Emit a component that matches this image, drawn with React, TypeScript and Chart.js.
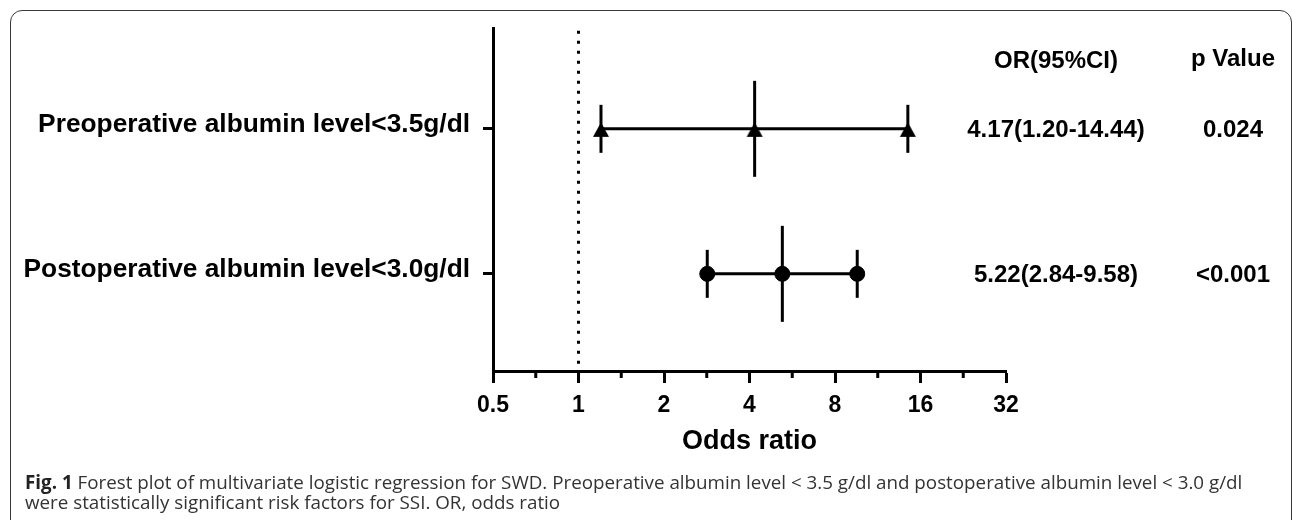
import React, { useEffect, useRef } from "react";
import { Chart, registerables } from "chart.js";

Chart.register(...registerables);

// ---- data ----
const ROW_LABELS = [
  "Preoperative albumin level<3.5g/dl",
  "Postoperative albumin level<3.0g/dl",
];
const ROW_POS = [1, 2];
const OR_VALUES = [4.17, 5.22];
const CI_LOWER = [1.2, 2.84];
const CI_UPPER = [14.44, 9.58];
const OR_TEXT = ["4.17(1.20-14.44)", "5.22(2.84-9.58)"];
const P_TEXT = ["0.024", "<0.001"];
const MARKERS = ["triangle", "circle"];
const X_TICKS = [0.5, 1, 2, 4, 8, 16, 32];
const X_TICK_LABELS = ["0.5", "1", "2", "4", "8", "16", "32"];
const REFERENCE_OR = 1;
const HEADERS = ["OR(95%CI)", "p Value"];
const X_TITLE = "Odds ratio";
const CAPTION_BOLD = "Fig. 1";
const CAPTION_LINE1 =
  " Forest plot of multivariate logistic regression for SWD. Preoperative albumin level < 3.5 g/dl and postoperative albumin level < 3.0 g/dl";
const CAPTION_LINE2 = "were statistically significant risk factors for SSI. OR, odds ratio";

const FONT = '"Liberation Sans", Arial, Helvetica, sans-serif';

// custom triangle marker: base sits a little below the line, like the reference
function makeTriangle(): HTMLCanvasElement {
  const c = document.createElement("canvas");
  c.width = 18;
  c.height = 28;
  const g = c.getContext("2d")!;
  g.fillStyle = "#000";
  g.beginPath();
  g.moveTo(9, 7.5);
  g.lineTo(17, 22);
  g.lineTo(1, 22);
  g.closePath();
  g.fill();
  return c;
}

const forestPlugin = {
  id: "forest",
  beforeDatasetsDraw(chart: any) {
    const { ctx, chartArea, scales } = chart;
    const x = scales.x;
    ctx.save();
    ctx.strokeStyle = "#000";
    ctx.lineWidth = 3;
    // reference line at OR = 1
    const rx = x.getPixelForValue(REFERENCE_OR);
    ctx.setLineDash([3, 7]);
    ctx.beginPath();
    ctx.moveTo(rx, chartArea.top + 2);
    ctx.lineTo(rx, chartArea.bottom);
    ctx.stroke();
    ctx.setLineDash([]);
    // vertical whiskers
    chart.data.datasets.forEach((_ds: any, i: number) => {
      const meta = chart.getDatasetMeta(i);
      meta.data.forEach((pt: any, j: number) => {
        const half = j === 1 ? 48 : 24;
        ctx.beginPath();
        ctx.moveTo(pt.x, pt.y - half);
        ctx.lineTo(pt.x, pt.y + half);
        ctx.stroke();
      });
    });
    ctx.restore();
  },
  afterDraw(chart: any) {
    const { ctx, chartArea, scales } = chart;
    const x = scales.x;
    const y = scales.y;
    ctx.save();
    // minor ticks
    ctx.strokeStyle = "#000";
    ctx.lineWidth = 3;
    for (let k = 0; k < X_TICKS.length - 1; k++) {
      const v = Math.sqrt(X_TICKS[k] * X_TICKS[k + 1]);
      const px = x.getPixelForValue(v);
      ctx.beginPath();
      ctx.moveTo(px, chartArea.bottom);
      ctx.lineTo(px, chartArea.bottom + 7);
      ctx.stroke();
    }
    // table text
    ctx.fillStyle = "#000";
    ctx.font = `bold 24px ${FONT}`;
    ctx.textAlign = "center";
    ctx.textBaseline = "middle";
    const orX = 1056;
    const pX = 1233;
    ctx.fillText(HEADERS[0], orX, 61);
    ctx.fillText(HEADERS[1], pX, 59);
    ROW_POS.forEach((r, i) => {
      const py = y.getPixelForValue(r) + 2;
      ctx.fillText(OR_TEXT[i], orX, py);
      ctx.fillText(P_TEXT[i], pX, py);
    });
    ctx.restore();
  },
};

export default function App() {
  const ref = useRef<HTMLCanvasElement | null>(null);

  useEffect(() => {
    if (!ref.current) return;
    const tri = makeTriangle();
    const datasets = ROW_POS.map((r, i) => ({
      label: ROW_LABELS[i],
      data: [
        { x: CI_LOWER[i], y: r },
        { x: OR_VALUES[i], y: r },
        { x: CI_UPPER[i], y: r },
      ],
      showLine: true,
      borderColor: "#000",
      backgroundColor: "#000",
      borderWidth: 3,
      pointStyle: MARKERS[i] === "triangle" ? tri : MARKERS[i],
      pointRadius: 7.5,
      pointBorderWidth: 1,
      pointBackgroundColor: "#000",
      pointBorderColor: "#000",
      tension: 0,
      fill: false,
    }));

    const chart = new Chart(ref.current, {
      type: "scatter",
      data: { datasets },
      plugins: [forestPlugin],
      options: {
        animation: false,
        responsive: false,
        devicePixelRatio: 1,
        events: [],
        layout: { padding: { top: 27, left: 0, right: 286, bottom: 0 } },
        plugins: { legend: { display: false }, tooltip: { enabled: false } },
        scales: {
          x: {
            type: "logarithmic",
            min: X_TICKS[0],
            max: X_TICKS[X_TICKS.length - 1],
            afterBuildTicks: (scale: any) => {
              scale.ticks = X_TICKS.map((v) => ({ value: v, major: true }));
            },
            afterFit: (scale: any) => {
              scale.height = 99;
            },
            ticks: {
              autoSkip: false,
              maxRotation: 0,
              padding: 9,
              color: "#000",
              font: { family: FONT, size: 23, weight: "bold" },
              callback: (_v: any, idx: number) => X_TICK_LABELS[idx],
            },
            grid: {
              display: true,
              drawOnChartArea: false,
              drawTicks: true,
              tickLength: 12,
              tickWidth: 3,
              tickColor: "#000",
            },
            border: { display: true, color: "#000", width: 3 },
            title: {
              display: true,
              text: X_TITLE,
              color: "#000",
              font: { family: FONT, size: 27, weight: "bold" },
              padding: { top: 0, bottom: 12 },
            },
          },
          y: {
            type: "linear",
            reverse: true,
            min: 0.31,
            max: 2.67,
            afterBuildTicks: (scale: any) => {
              scale.ticks = ROW_POS.map((v) => ({ value: v }));
            },
            afterFit: (scale: any) => {
              scale.width = 493;
            },
            ticks: {
              autoSkip: false,
              padding: 13,
              labelOffset: -4,
              color: "#000",
              font: { family: FONT, size: 26.3, weight: "bold" },
              callback: (_v: any, idx: number) => ROW_LABELS[idx],
            },
            grid: {
              display: true,
              drawOnChartArea: false,
              drawTicks: true,
              tickLength: 10,
              tickWidth: 3,
              tickColor: "#000",
            },
            border: { display: true, color: "#000", width: 3 },
          },
        },
      },
    } as any);
    return () => chart.destroy();
  }, []);

  return (
    <div
      style={{
        position: "fixed",
        left: 0,
        top: 0,
        width: 1292,
        height: 520,
        overflow: "hidden",
        background: "#fff",
      }}
    >
      <div
        style={{
          position: "absolute",
          left: 10,
          top: 10,
          width: 1282,
          height: 560,
          boxSizing: "border-box",
          border: "1.5px solid #3a3a3a",
          borderRadius: 12,
        }}
      />
      <canvas
        ref={ref}
        width={1292}
        height={470}
        style={{ position: "absolute", left: 0, top: 0, width: 1292, height: 470 }}
      />
      <div
        style={{
          position: "absolute",
          left: 25,
          top: 472,
          font: '18.8px "Open Sans", sans-serif',
          color: "#333",
          lineHeight: "20px",
          whiteSpace: "nowrap",
        }}
      >
        <div>
          <b style={{ color: "#222" }}>{CAPTION_BOLD}</b>
          {CAPTION_LINE1}
        </div>
        <div>{CAPTION_LINE2}</div>
      </div>
    </div>
  );
}
